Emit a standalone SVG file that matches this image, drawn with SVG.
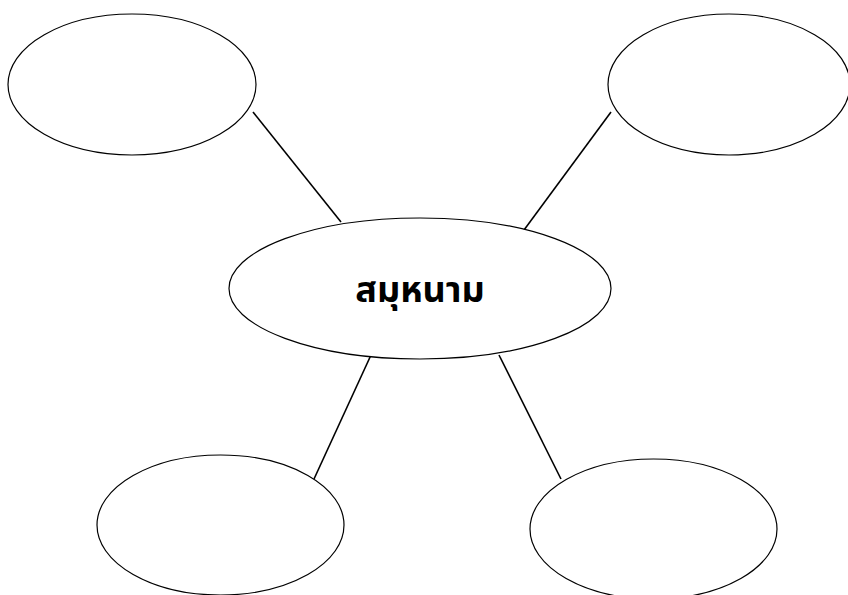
<svg xmlns="http://www.w3.org/2000/svg" width="848" height="595" viewBox="0 0 848 595">
<style>
.node{fill:#fff;stroke:#000;stroke-width:1.2}
.edge{stroke:#000;stroke-width:1.6;fill:none}
.label{font-family:"Noto Sans Thai","DejaVu Sans","Liberation Sans",sans-serif;font-weight:bold;font-size:36px;fill:#000;text-anchor:middle}
</style>
<rect width="848" height="595" fill="#fff"/>
<g id="connectors">
<line class="edge" x1="253" y1="112" x2="341" y2="222"/>
<line class="edge" x1="611" y1="112" x2="524" y2="230"/>
<line class="edge" x1="371" y1="355" x2="314" y2="479"/>
<line class="edge" x1="499" y1="355" x2="561" y2="479"/>
</g>
<g id="node-top-left"><ellipse class="node" cx="132" cy="84.5" rx="124" ry="70.5"/></g>
<g id="node-top-right"><ellipse class="node" cx="729" cy="84.5" rx="121" ry="70.5"/></g>
<g id="node-center"><ellipse class="node" cx="420" cy="288.5" rx="191" ry="70.5"/>
<text class="label" x="420" y="302">สมุหนาม</text></g>
<g id="node-bottom-left"><ellipse class="node" cx="220.5" cy="525" rx="123.5" ry="70"/></g>
<g id="node-bottom-right"><ellipse class="node" cx="653.5" cy="529" rx="123.5" ry="70"/></g>
</svg>
